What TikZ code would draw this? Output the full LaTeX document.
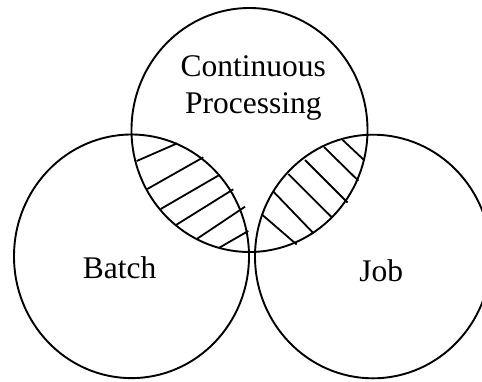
\documentclass[tikz,border=0pt]{standalone}
\usepackage{fontspec}
\setmainfont{Liberation Serif}
\begin{document}
\begin{tikzpicture}[x=1pt,y=-1pt,
  ring/.style={draw=black,line width=1.9pt},
  hatch/.style={draw=black,line width=1.8pt},
  label/.style={anchor=base,inner sep=0pt,font=\fontsize{31.5}{36}\selectfont}]
\clip (0,0) rectangle (482,381);
% the three sets
\draw[ring] (249.5,130) ellipse [x radius=118pt, y radius=122pt];
\draw[ring] (131.5,256.3) ellipse [x radius=117.5pt, y radius=121.8pt];
\draw[ring] (373,256.5) ellipse [x radius=118pt, y radius=121.8pt];
% hatching of the left overlap
\draw[hatch] (136.7,161) -- (177.3,143.3);
\draw[hatch] (147.3,189) -- (203.3,157.3);
\draw[hatch] (160.7,209) -- (219.3,175);
\draw[hatch] (176,225) -- (233.3,189.3);
\draw[hatch] (196.7,239) -- (245,206.7);
\draw[hatch] (219.3,247.7) -- (248.3,231);
% hatching of the right overlap
\draw[hatch] (342.7,140) -- (364,160);
\draw[hatch] (324,147) -- (358.3,180.7);
\draw[hatch] (305,160) -- (347.5,202.5);
\draw[hatch] (288.3,174) -- (332,217.5);
\draw[hatch] (273.3,191.5) -- (313.5,233.3);
\draw[hatch] (262.5,215) -- (296.7,244.5);
% set labels
\node[label] (cont) at (253.3,76.7) {Continuous};
\node[label] (proc) at (253.3,113) {Processing};
\node[label] (batch) at (119.5,278.3) {Batch};
\node[label] (job) at (381.3,281.7) {Job};
\end{tikzpicture}
\end{document}
